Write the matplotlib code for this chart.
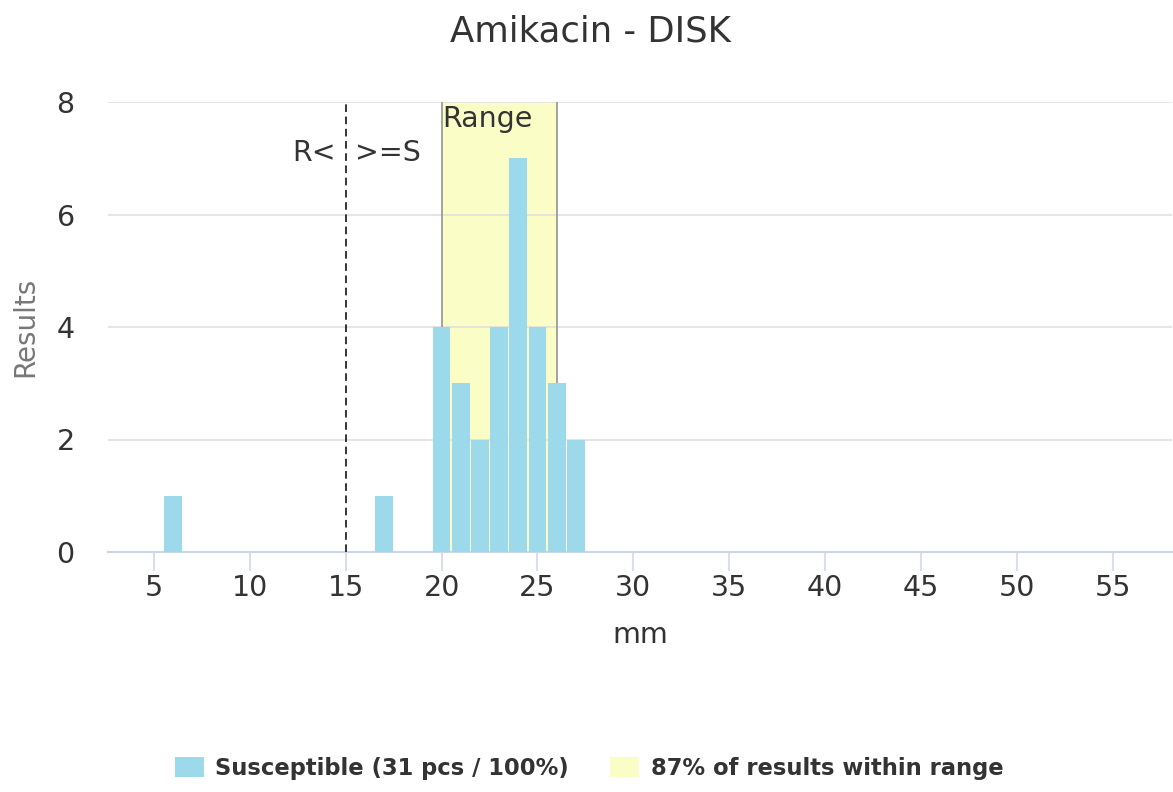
import matplotlib
matplotlib.use("Agg")
import matplotlib.pyplot as plt
from matplotlib.patches import Patch

# disk diffusion results (mm) and how many isolates hit each value
mm_values = [6, 17, 20, 21, 22, 23, 24, 25, 26, 27]
counts = [1, 1, 4, 3, 2, 4, 7, 4, 3, 2]

breakpoint_s = 15          # R< / >=S
range_low, range_high = 20, 26
x_ticks = list(range(5, 56, 5))
y_ticks = [0, 2, 4, 6, 8]

title = "Amikacin - DISK"
legend_labels = ["Susceptible (31 pcs / 100%)", "87% of results within range"]

bar_color = "#9cd9ea"
band_color = "#fafdc6"
text_color = "#333333"

plt.rcParams["font.family"] = ["DejaVu Sans"]

fig = plt.figure(figsize=(11.73, 7.92), dpi=100)
ax = fig.add_axes([108 / 1173, 1 - 552 / 792, 1064 / 1173, 450 / 792])

# range band with grey edges
ax.axvspan(range_low, range_high, color=band_color, zorder=0, lw=0)
for edge in (range_low, range_high):
    ax.axvline(edge, color="#8c8c8c", lw=1.1, zorder=1)

ax.set_axisbelow(True)
ax.yaxis.grid(True, color="#dedede", lw=1.1, zorder=1.5)

ax.bar(mm_values, counts, width=0.93, color=bar_color, zorder=3)

ax.axvline(breakpoint_s, color="black", lw=1.1, dashes=(5, 3), zorder=4)
ax.text(breakpoint_s - 0.5, 6.95, "R<", ha="right", va="baseline",
        fontsize=20.5, color=text_color, zorder=5)
ax.text(breakpoint_s + 0.5, 6.95, ">=S", ha="left", va="baseline",
        fontsize=20.5, color=text_color, zorder=5)
ax.text(range_low + 0.05, 7.55, "Range", ha="left", va="baseline",
        fontsize=20.5, color=text_color, zorder=5)

ax.set_xlim(2.6, 58.1)
ax.set_ylim(0, 8)
ax.set_xticks(x_ticks)
ax.set_yticks(y_ticks)

for side in ("top", "right", "left"):
    ax.spines[side].set_visible(False)
ax.spines["bottom"].set_color("#ccd6eb")
ax.spines["bottom"].set_linewidth(1.5)

ax.tick_params(axis="x", length=13.5, width=1.1, color="#ccd6eb",
               labelsize=20.5, labelcolor=text_color, pad=2)
ax.tick_params(axis="y", length=0, labelsize=20.5, labelcolor=text_color, pad=24)

ax.set_xlabel("mm", fontsize=20.5, color=text_color, labelpad=14)
ax.set_ylabel("Results", fontsize=20, color="#777777", labelpad=12)

fig.text(0.503, 1 - 41 / 792, title, ha="center", va="baseline",
         fontsize=25.5, color=text_color)

handles = [Patch(facecolor=bar_color, edgecolor="none"),
           Patch(facecolor=band_color, edgecolor="none")]
fig.legend(handles, legend_labels, loc="center", ncol=2, frameon=False,
           bbox_to_anchor=(0.502, 1 - 768 / 792),
           prop={"weight": "bold", "size": 16.3},
           labelcolor=text_color, handlelength=1.3, handleheight=1.0,
           handletextpad=0.5, columnspacing=1.8)

fig.savefig("out.png", dpi=100, facecolor="white")
